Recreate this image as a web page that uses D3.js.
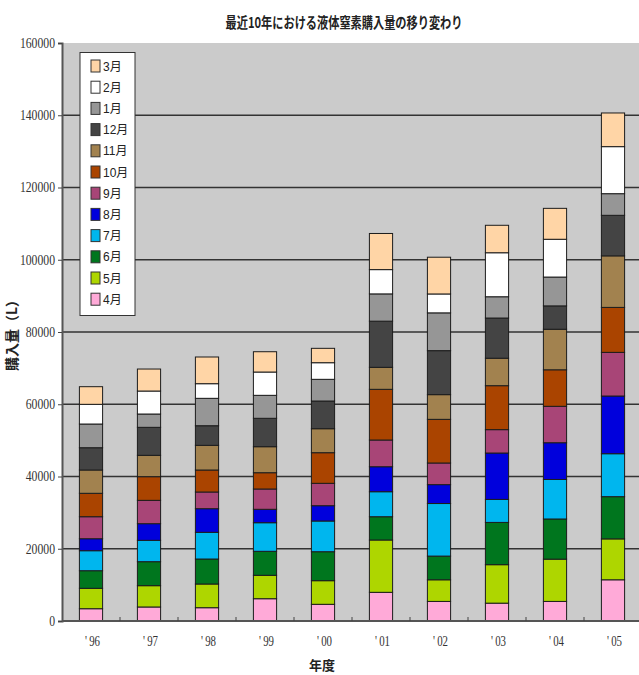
<!DOCTYPE html>
<html>
<head>
<meta charset="utf-8">
<script src="https://cdnjs.cloudflare.com/ajax/libs/d3/7.8.5/d3.min.js"></script>
<style>
  html, body { margin: 0; padding: 0; background: #ffffff; }
  svg { display: block; }
</style>
</head>
<body>
<svg id="chart" width="639" height="675"></svg>
<script>
// Fiscal years
const years = ["'96", "'97", "'98", "'99", "'00", "'01", "'02", "'03", "'04", "'05"];

// Stack order, bottom to top (April -> March)
const months = ["4月", "5月", "6月", "7月", "8月", "9月", "10月", "11月", "12月", "1月", "2月", "3月"];

// Monthly purchase volume of liquid nitrogen (L), one value per year
const apr = [3400, 3880, 3680, 6170, 4620, 7940, 5420, 4940, 5420, 11410];
const may = [5650, 5900, 6560, 6480, 6540, 14480, 5990, 10650, 11700, 11320];
const jun = [4870, 6640, 6920, 6640, 8020, 6450, 6560, 11700, 11120, 11690];
const jul = [5540, 5910, 7390, 7920, 8500, 6920, 14550, 6370, 10940, 11890];
const aug = [3320, 4610, 6540, 3710, 4240, 6920, 5230, 12840, 10170, 15970];
const sep = [6090, 6460, 4620, 5620, 6190, 7390, 5990, 6470, 10080, 12080];
const oct = [6480, 6550, 6090, 4510, 8480, 14030, 12080, 12170, 10110, 12450];
const nov = [6450, 5910, 6830, 7200, 6640, 6090, 6840, 7600, 11220, 14270];
const dec = [6170, 7750, 5430, 7860, 7670, 12780, 12180, 11130, 6470, 11220];
const jan = [6560, 3690, 7580, 6360, 6000, 7550, 10460, 5890, 7980, 5990];
const feb = [5450, 6360, 4050, 6450, 4600, 6720, 5230, 12180, 10460, 13020];
const mar = [4880, 6090, 7390, 5620, 3980, 10000, 10170, 7600, 8560, 9320];

const yTicks = [0, 20000, 40000, 60000, 80000, 100000, 120000, 140000, 160000];

const seriesByMonth = [apr, may, jun, jul, aug, sep, oct, nov, dec, jan, feb, mar];

const colors = ["#FFAAD8", "#AED600", "#00761E", "#00B6EE", "#0000DC", "#A84577",
                "#AA4400", "#A2824F", "#444444", "#969696", "#FFFFFF", "#FFD5A6"];

// Build row-per-year table for d3.stack
const rows = years.map((yr, i) => {
  const r = { year: yr };
  months.forEach((m, k) => { r[m] = seriesByMonth[k][i]; });
  return r;
});

const svg = d3.select("#chart");
const plot = { left: 62, right: 642, top: 43, bottom: 621 };

const x = d3.scaleBand()
  .domain(years)
  .range([plot.left, plot.right])
  .paddingInner(0.6)
  .paddingOuter(0.3);

const y = d3.scaleLinear()
  .domain([0, 160000])
  .range([plot.bottom, plot.top]);

const color = d3.scaleOrdinal().domain(months).range(colors);

const serif = "'Liberation Serif', 'DejaVu Serif', serif";

// Plot background
svg.append("rect")
  .attr("x", plot.left).attr("y", plot.top)
  .attr("width", plot.right - plot.left).attr("height", plot.bottom - plot.top)
  .attr("fill", "#CBCBCB");

// Horizontal gridlines
svg.append("g")
  .selectAll("line")
  .data(yTicks.filter(t => t > 0 && t < 160000))
  .join("line")
  .attr("x1", plot.left).attr("x2", plot.right)
  .attr("y1", d => y(d)).attr("y2", d => y(d))
  .attr("stroke", "#333333")
  .attr("stroke-width", 1.4);

// Stacked bars
const stack = d3.stack().keys(months);
const layers = stack(rows);

svg.append("g")
  .selectAll("g")
  .data(layers)
  .join("g")
  .attr("fill", d => color(d.key))
  .selectAll("rect")
  .data(d => d)
  .join("rect")
  .attr("x", d => x(d.data.year))
  .attr("width", x.bandwidth())
  .attr("y", d => y(d[1]))
  .attr("height", d => y(d[0]) - y(d[1]))
  .attr("stroke", "#1c1c1c")
  .attr("stroke-width", 1);

// Y axis
const yAxis = d3.axisLeft(y)
  .tickValues(yTicks)
  .tickSize(4)
  .tickPadding(3)
  .tickFormat(d3.format("d"));

const gy = svg.append("g")
  .attr("transform", `translate(${plot.left},0)`)
  .call(yAxis);
gy.select(".domain").attr("stroke", "#555555").attr("stroke-width", 2);
gy.selectAll(".tick line").attr("stroke", "#444444");
gy.selectAll(".tick text")
  .attr("font-family", serif)
  .attr("font-size", 14)
  .attr("fill", "#333333")
  .attr("textLength", d => String(d).length * 5.85)
  .attr("lengthAdjust", "spacingAndGlyphs");

// X axis: inward ticks at category boundaries, labels centred on bars
const gx = svg.append("g").attr("transform", `translate(0,${plot.bottom})`);
gx.append("line")
  .attr("x1", plot.left).attr("x2", plot.right)
  .attr("y1", 0).attr("y2", 0)
  .attr("stroke", "#555555").attr("stroke-width", 2);
const boundary = d => x(d) - (x.step() - x.bandwidth()) / 2;
gx.selectAll("line.tk")
  .data(years.slice(1))
  .join("line")
  .attr("class", "tk")
  .attr("x1", boundary)
  .attr("x2", boundary)
  .attr("y1", 0).attr("y2", -4)
  .attr("stroke", "#444444");
gx.selectAll("text")
  .data(years)
  .join("text")
  .attr("x", d => x(d) + x.bandwidth() / 2 + 1.5)
  .attr("y", 25)
  .attr("text-anchor", "middle")
  .attr("font-family", serif)
  .attr("font-size", 14)
  .attr("fill", "#333333")
  .attr("textLength", 15)
  .attr("lengthAdjust", "spacingAndGlyphs")
  .text(d => d.replace("'", "'\u2009"));

// Axis titles
svg.append("text")
  .attr("x", 322).attr("y", 670)
  .attr("text-anchor", "middle")
  .attr("font-family", "'Noto Sans CJK JP', sans-serif")
  .attr("font-weight", "bold")
  .attr("font-size", 13)
  .attr("fill", "#222222")
  .text("年度");

svg.append("text")
  .attr("transform", "translate(17,332) rotate(-90)")
  .attr("text-anchor", "middle")
  .attr("font-family", "'Noto Sans CJK JP', sans-serif")
  .attr("font-weight", "bold")
  .attr("font-size", 14)
  .attr("fill", "#222222")
  .text("購入量（L）");

// Title
svg.append("text")
  .attr("x", 344).attr("y", 28)
  .attr("text-anchor", "middle")
  .attr("font-family", "'Noto Sans CJK JP', sans-serif")
  .attr("font-weight", "bold")
  .attr("font-size", 14.5)
  .attr("textLength", 237)
  .attr("lengthAdjust", "spacingAndGlyphs")
  .attr("fill", "#222222")
  .text("最近10年における液体窒素購入量の移り変わり");

// Legend (March on top, April at bottom)
const legend = svg.append("g");
legend.append("rect")
  .attr("x", 80).attr("y", 52.5)
  .attr("width", 55).attr("height", 263)
  .attr("fill", "#FFFFFF")
  .attr("stroke", "#333333")
  .attr("stroke-width", 1);

const legendItems = months.slice().reverse();
const li = legend.selectAll("g.item")
  .data(legendItems)
  .join("g")
  .attr("class", "item")
  .attr("transform", (d, i) => `translate(91,${66 + i * 21.2})`);
li.append("rect")
  .attr("x", 0).attr("y", -6)
  .attr("width", 9).attr("height", 12)
  .attr("fill", d => color(d))
  .attr("stroke", "#333333")
  .attr("stroke-width", 1);
li.append("text")
  .attr("x", 12).attr("y", 4.5)
  .attr("font-family", "'Liberation Sans', 'Noto Sans CJK JP', sans-serif")
  .attr("font-size", 12)
  .attr("fill", "#222222")
  .text(d => d);
</script>
</body>
</html>
